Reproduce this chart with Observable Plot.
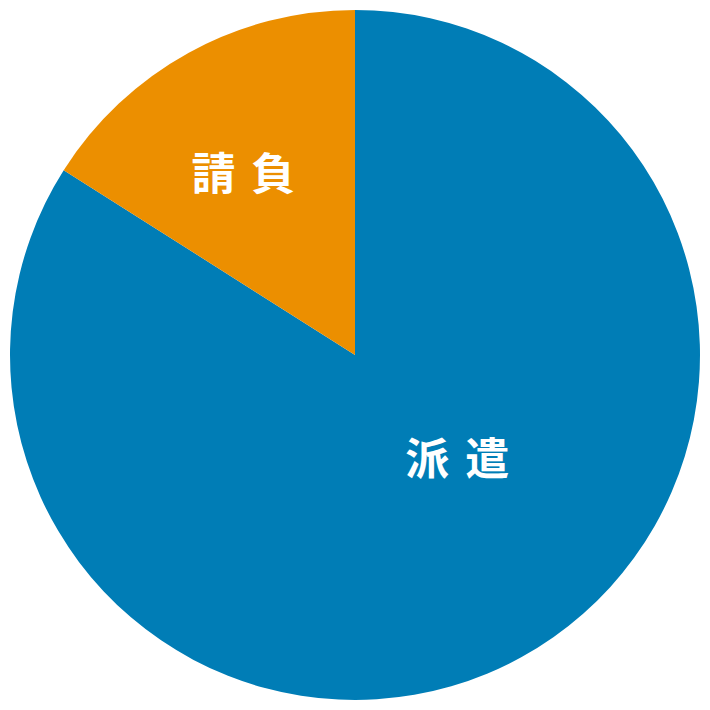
<!DOCTYPE html>
<html>
<head>
<meta charset="utf-8">
<script src="https://cdn.jsdelivr.net/npm/d3@7"></script>
<script src="https://cdn.jsdelivr.net/npm/@observablehq/plot@0.6"></script>
<style>
  html, body { margin: 0; padding: 0; background: #fff; }
</style>
</head>
<body>
<div id="chart"></div>
<script>
// Data
const categories = ["派遣", "請負"];
const values = [84, 16];
const colors = ["#007db6", "#ec8f00"];
// label anchor (in unit-circle coordinates)
const labelX = [0.295, -0.325];
const labelY = [-0.305, 0.52];

const pie = d3.pie().sort(null).value(d => d.value);
const slices = pie(categories.map((c, i) => ({category: c, value: values[i], color: colors[i]})));

const labels = categories.map((c, i) => ({category: c, x: labelX[i], y: labelY[i]}));

function pieMark(index, scales, values_, dimensions, context) {
  const cx = scales.x(0), cy = scales.y(0);
  const r = scales.x(1) - scales.x(0);
  const arc = d3.arc().innerRadius(0).outerRadius(r);
  const g = d3.create("svg:g").attr("transform", `translate(${cx},${cy})`);
  g.selectAll("path").data(slices).join("path")
    .attr("d", arc)
    .attr("fill", d => d.data.color)
    .attr("stroke", "none");
  return g.node();
}

const chart = Plot.plot({
  width: 710,
  height: 710,
  margin: 0,
  x: {domain: [-1, 1], range: [10, 700], axis: null},
  y: {domain: [-1, 1], range: [700, 10], axis: null},
  style: {background: "#fff"},
  marks: [
    pieMark,
    Plot.text(labels, {
      x: "x", y: "y", text: "category",
      fill: "#fff",
      fontSize: 44,
      fontWeight: "bold",
      fontFamily: "Noto Sans CJK JP",
      dx: 8
    })
  ]
});
chart.querySelectorAll("text").forEach(t => t.setAttribute("letter-spacing", "16px"));
document.getElementById("chart").appendChild(chart);
</script>
</body>
</html>
